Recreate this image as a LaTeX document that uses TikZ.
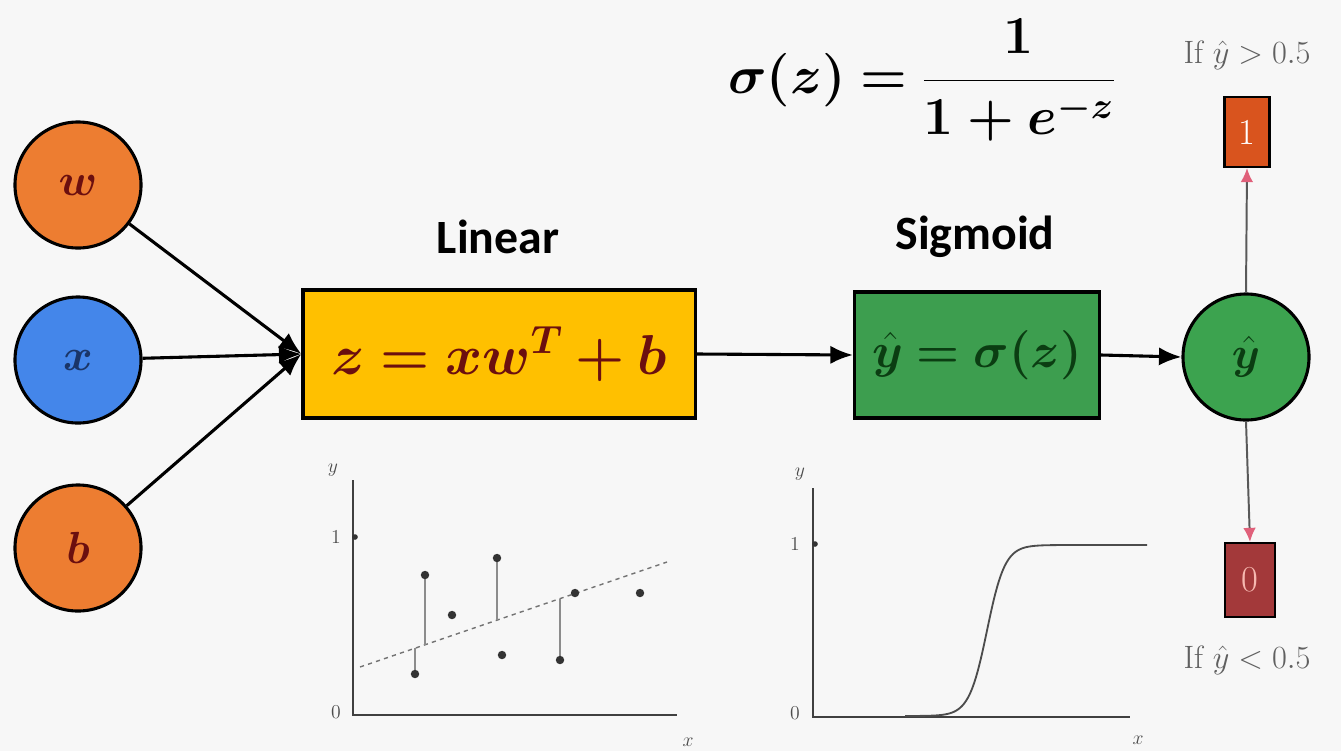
\RequirePackage{fix-cm}
\documentclass[tikz,border=0pt]{standalone}
\usepackage{fontspec}
\usepackage{amsmath,bm}
\newfontfamily\calibri{Carlito}
\usetikzlibrary{arrows.meta}
\definecolor{bg}{HTML}{F7F7F7}
\definecolor{orng}{HTML}{ED7D31}
\definecolor{blu}{HTML}{4486EA}
\definecolor{yel}{HTML}{FFC000}
\definecolor{grn}{HTML}{3D9E4F}
\definecolor{grnc}{HTML}{3CA34F}
\definecolor{redtxt}{HTML}{6B0F0F}
\definecolor{blutxt}{HTML}{1A3568}
\definecolor{grntxt}{HTML}{0B3D12}
\definecolor{onebox}{HTML}{D9541E}
\definecolor{zerobox}{HTML}{A3393A}
\definecolor{zerotxt}{HTML}{F6B8B0}
\definecolor{pinkhead}{HTML}{E0607A}
\definecolor{greytxt}{HTML}{606060}
\tikzset{
  conn/.style={line width=2.2pt, draw=black},
  arr/.style={conn, -{Latex[length=16pt,width=13pt]}},
  vconn/.style={line width=1.4pt, draw=black!65, -{Latex[length=10pt,width=9pt,color=pinkhead]}},
  inp/.style={circle, draw=black, line width=2.2pt, minimum size=3.15cm, inner sep=0pt, font=\fontsize{32}{36}\selectfont},
  blk/.style={draw=black, line width=2.2pt, inner sep=0pt, font=\fontsize{40}{44}\selectfont},
  outbox/.style={draw=black, line width=1.5pt, inner sep=0pt, font=\fontsize{26}{30}\selectfont},
  lbl/.style={font=\calibri\bfseries\fontsize{34}{40}\selectfont},
  cond/.style={text=greytxt, font=\fontsize{23}{27}\selectfont},
  axis/.style={line width=1.3pt, draw=black!75},
  guide/.style={line width=0.8pt, draw=black!45},
  dashln/.style={line width=1pt, draw=black!55, dashed},
  pt/.style={circle, fill=black!80, inner sep=0pt, minimum size=6pt},
  ticklbl/.style={text=black!70, font=\fontsize{14}{16}\selectfont},
}
\begin{document}
\begin{tikzpicture}[x=0.025cm, y=-0.025cm]
\useasboundingbox (0,0) rectangle (1341,751);
\fill[bg] (0,0) rectangle (1341,751);

% inputs
\node[inp, fill=orng] (w) at (78,185) {\textcolor{redtxt}{$\bm{w}$}};
\node[inp, fill=blu] (x) at (78,360) {\textcolor{blutxt}{$\bm{x}$}};
\node[inp, fill=orng] (b) at (78,548) {\textcolor{redtxt}{$\bm{b}$}};

% blocks
\node[blk, fill=yel, minimum width=9.8cm, minimum height=3.2cm] (lin) at (499,354)
  {\textcolor{redtxt}{$\bm{z = xw^{T} + b}$}};
\node[blk, fill=grn, minimum width=6.125cm, minimum height=3.15cm, font=\fontsize{35}{40}\selectfont] (sig) at (977,355)
  {\textcolor{grntxt}{$\bm{\hat{y} = \sigma(z)}$}};
\node[lbl] (linlbl) at (498,237) {Linear};
\node[lbl] (siglbl) at (975,237) {Sigmoid};

% formula
\node[font=\fontsize{38}{42}\selectfont] (formula) at (922,80)
  {$\displaystyle\bm{\sigma(z) = \frac{1}{1+e^{-z}}}$};

% output
\node[inp, fill=grnc] (yhat) at (1246,357) {\textcolor{grntxt}{$\bm{\hat{y}}$}};
\node[outbox, fill=onebox, minimum width=1.125cm, minimum height=1.75cm] (one) at (1247,132) {\textcolor{white}{1}};
\node[outbox, fill=zerobox, minimum width=1.25cm, minimum height=1.85cm] (zero) at (1250,580) {\textcolor{zerotxt}{0}};
\node[cond] (gt) at (1247,55) {If $\hat{y} > 0.5$};
\node[cond] (lt) at (1247,660) {If $\hat{y} < 0.5$};

% connectors
\draw[arr] (w) -- (lin.west);
\draw[arr] (x) -- (lin.west);
\draw[arr] (b) -- (lin.west);
\draw[arr] (lin.east) -- (sig.west);
\draw[arr] (sig.east) -- (yhat.west);
\draw[vconn] (yhat.north) -- (one.south);
\draw[vconn] (yhat.south) -- (zero.north);

% linear regression plot
\draw[axis] (353,480) -- (353,715) -- (677,715);
\node[ticklbl] at (333,470) {$y$};
\node[ticklbl] at (336,537) {1};
\node[ticklbl] at (336,712) {0};
\node[ticklbl] at (688,742) {$x$};
\node[pt, minimum size=4pt] at (355,537) {};
\draw[dashln] (360,667) -- (667,562);
\draw[guide] (415,674) -- (415,648);
\draw[guide] (425,575) -- (425,645);
\draw[guide] (497,558) -- (497,620);
\draw[guide] (560,660) -- (560,599);
\foreach \px/\py in {415/674, 425/575, 452/615, 497/558, 502/655, 560/660, 575/593, 640/593}
  \node[pt] at (\px,\py) {};

% sigmoid plot
\draw[axis] (813,488) -- (813,717) -- (1130,717);
\node[ticklbl] at (800,474) {$y$};
\node[ticklbl] at (795,544) {1};
\node[ticklbl] at (795,713) {0};
\node[ticklbl] at (1138,740) {$x$};
\node[pt, minimum size=4pt] at (815,544) {};
\draw[line width=1.3pt, draw=black!70] plot[domain=905:1147, samples=120, smooth]
  (\x, {716-171/(1+exp(-(\x-987)/9))});
\end{tikzpicture}
\end{document}
